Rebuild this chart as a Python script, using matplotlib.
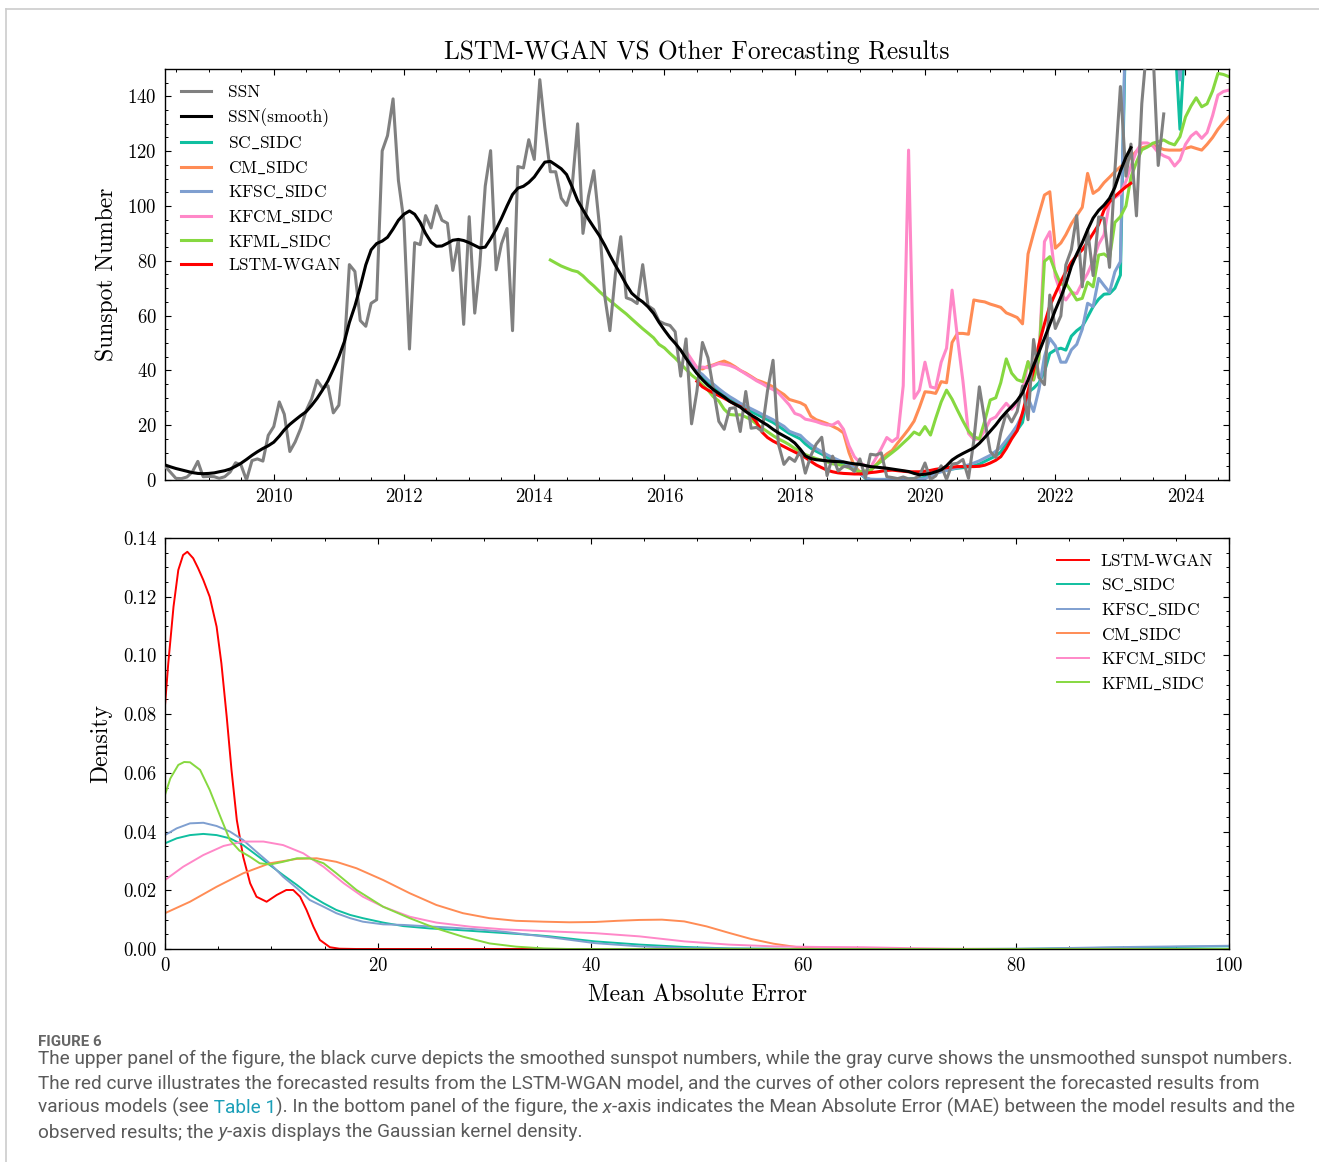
import numpy as np
import pandas as pd
import matplotlib
matplotlib.use('Agg')
import matplotlib.pyplot as plt
import matplotlib.dates as mdates
from matplotlib.ticker import MultipleLocator, FormatStrFormatter
from matplotlib.transforms import IdentityTransform

plt.rcParams['font.family'] = ['cmr10', 'DejaVu Serif']
plt.rcParams['mathtext.fontset'] = 'cm'
plt.rcParams['axes.formatter.use_mathtext'] = True

################### data, upper panel ##############################

# monthly sunspot number, 2008-05 .. 2023-09
ssn = [5.0, 2.8, 0.6, 0.5, 1.1, 2.9, 6.8, 1.2,
       1.3, 1.2, 0.6, 1.2, 2.9, 6.3, 5.5, 0.0, 7.1, 7.7, 6.9, 16.3,
       19.5, 28.5, 24.0, 10.4, 13.9, 18.8, 25.2, 29.6, 36.4, 33.6, 34.4, 24.5,
       27.3, 48.3, 78.6, 76.1, 58.2, 56.1, 64.5, 65.8, 120.1, 125.7, 139.1, 109.3,
       94.4, 47.8, 86.6, 85.9, 96.5, 92.0, 100.1, 94.8, 93.7, 76.5, 87.6, 56.8,
       96.1, 60.9, 78.3, 107.3, 120.2, 76.7, 86.2, 91.8, 54.5, 114.4, 113.9, 124.2,
       117.0, 146.1, 128.7, 112.5, 112.5, 102.9, 100.2, 106.9, 130.0, 90.0, 103.6, 112.9,
       93.0, 66.7, 54.5, 75.3, 88.8, 66.5, 65.8, 64.4, 78.6, 63.6, 62.2, 58.0,
       57.0, 56.4, 54.1, 37.9, 51.5, 20.5, 32.4, 50.2, 44.6, 33.4, 21.4, 18.5,
       26.1, 26.4, 17.7, 32.3, 18.9, 19.2, 17.8, 32.6, 43.7, 13.2, 5.7, 8.2,
       6.8, 10.7, 2.5, 8.9, 13.1, 15.6, 1.6, 8.7, 3.3, 4.9, 4.9, 3.1,
       7.7, 0.8, 9.4, 9.1, 9.9, 1.2, 0.9, 0.5, 1.1, 0.4, 0.5, 1.5,
       6.2, 0.2, 1.5, 5.2, 0.2, 5.8, 6.1, 7.5, 0.6, 14.4, 34.0, 21.8,
       10.4, 8.2, 17.2, 24.5, 21.2, 25.0, 34.3, 22.0, 51.3, 37.4, 34.8, 67.5,
       55.3, 59.9, 78.5, 84.1, 96.5, 70.5, 91.4, 74.6, 96.0, 95.5, 77.6, 112.8,
       143.6, 110.9, 122.6, 96.4, 137.4, 160.5, 159.1, 114.8, 133.6]

# smoothed sunspot number, 2008-05 .. 2023-03
ssn_smooth = [5.5, 4.8, 4.2, 3.7, 3.2, 2.7, 2.4, 2.3,
              2.4, 2.6, 3.0, 3.4, 4.0, 5.0, 6.1, 7.5, 9.0, 10.3, 11.5, 12.5,
              13.8, 16.0, 18.3, 20.3, 21.9, 23.5, 24.9, 27.2, 29.8, 32.8, 36.2, 40.4,
              45.0, 50.5, 57.5, 63.5, 70.5, 78.5, 84.0, 86.3, 87.2, 88.6, 91.6, 94.8,
              97.0, 98.2, 97.0, 94.0, 90.0, 86.8, 85.3, 85.4, 86.4, 87.5, 87.8, 87.4,
              86.6, 85.6, 84.7, 85.0, 88.0, 91.5, 95.5, 100.0, 104.2, 106.5, 107.2, 108.6,
              110.6, 113.5, 116.0, 116.3, 115.0, 113.6, 111.5, 107.0, 102.0, 98.6, 95.2, 92.2,
              89.2, 85.6, 82.0, 78.3, 75.0, 71.3, 68.2, 66.4, 65.0, 63.2, 60.8, 57.6,
              54.7, 52.0, 49.9, 47.4, 44.4, 41.5, 38.9, 36.6, 34.6, 33.0, 31.6, 30.3,
              28.7, 27.6, 26.6, 25.0, 23.7, 22.5, 21.2, 20.0, 18.5, 17.2, 16.1, 15.0,
              13.5, 11.2, 8.8, 7.8, 7.4, 7.2, 7.0, 6.8, 6.7, 6.6, 6.2, 5.9,
              5.7, 5.3, 4.9, 4.7, 4.5, 4.3, 4.0, 3.7, 3.4, 3.1, 2.4, 1.9,
              2.1, 2.4, 3.0, 3.7, 5.2, 7.3, 8.6, 9.7, 10.7, 11.7, 13.4, 15.5,
              17.8, 20.1, 22.5, 24.8, 26.8, 29.0, 31.8, 36.5, 41.8, 46.6, 51.7, 56.8,
              62.0, 66.8, 71.5, 78.0, 82.5, 86.6, 91.3, 95.6, 98.4, 100.3, 102.8, 106.8,
              112.8, 117.8, 121.3]

# forecasts, 2016-05 .. 2024-09 (values above 150 run off the top)
sc_sidc = [45.0, 42.0, 39.0, 37.5, 35.5, 34.0, 32.3, 30.7, 29.4, 28.2,
           26.9, 26.0, 25.0, 24.0, 23.0, 22.0, 21.0, 19.7, 18.3, 17.0,
           16.0, 15.0, 13.2, 11.6, 10.5, 9.5, 8.3, 7.5, 6.8, 6.1,
           5.2, 4.3, 2.5, 0.6, 0.2, 0.2, 0.2, 0.2, 0.3, 0.3,
           0.4, 0.4, 0.5, 0.6, 1.0, 2.4, 2.8, 3.1, 3.5, 4.0,
           4.3, 4.5, 4.8, 5.2, 5.8, 6.8, 7.8, 8.8, 10.2, 13.5,
           16.0, 18.2, 21.0, 32.0, 33.5, 35.5, 39.5, 46.2, 47.5, 48.1,
           47.4, 52.5, 54.5, 56.0, 59.5, 63.3, 66.0, 67.8, 68.0, 70.0,
           74.8, 172, 178, 185, 181, 176, 183, 188, 180, 171,
           163, 128, 165, 174, 182, 190, 186, 193, 198, 192,
           196]
cm_sidc = [46.0, 43.5, 41.0, 40.5, 41.5, 42.0, 42.8, 43.4, 42.5, 41.3,
           40.0, 39.0, 37.8, 36.5, 35.8, 35.0, 34.0, 32.5, 31.2, 29.4,
           28.8, 28.2, 27.2, 23.3, 22.0, 21.3, 20.6, 19.6, 18.6, 17.2,
           10.0, 5.0, 3.0, 2.4, 3.2, 5.5, 7.8, 9.5, 10.8, 13.5,
           16.0, 18.5, 21.5, 26.5, 32.2, 32.0, 31.6, 35.9, 35.5, 50.2,
           53.5, 53.5, 53.2, 65.7, 65.3, 65.0, 64.2, 63.6, 63.0, 61.0,
           60.2, 59.3, 57.0, 82.5, 90.0, 97.0, 104.0, 105.2, 84.6, 86.5,
           89.5, 93.5, 96.5, 99.5, 111.9, 104.6, 106.0, 108.5, 110.5, 112.5,
           114.3, 116.0, 117.8, 120.0, 121.2, 121.8, 122.3, 121.5, 120.6, 120.4,
           120.4, 120.4, 121.0, 121.6, 121.0, 120.4, 122.5, 125.0, 128.0, 130.5,
           132.6]
kfsc_sidc = [45.0, 42.5, 40.0, 38.5, 36.5, 35.0, 33.3, 31.8, 30.4, 29.2,
             28.0, 27.0, 26.0, 25.0, 24.0, 23.0, 22.0, 20.8, 19.6, 17.8,
             17.0, 16.3, 14.5, 12.8, 11.5, 10.3, 9.2, 8.2, 7.3, 6.5,
             5.5, 4.5, 2.5, 0.8, 0.3, 0.2, 0.2, 0.2, 0.2, 0.2,
             0.2, 0.2, 0.2, 0.3, 0.5, 1.5, 2.5, 3.0, 3.5, 4.0,
             4.5, 5.0, 5.5, 6.2, 7.0, 8.0, 9.0, 10.5, 12.0, 14.5,
             17.0, 20.0, 24.0, 30.0, 25.0, 33.0, 45.0, 51.7, 49.0, 43.0,
             43.0, 47.5, 49.5, 55.0, 64.5, 63.3, 73.6, 71.0, 68.5, 76.0,
             79.7, 176, 182, 190, 186, 181, 188, 192, 184, 175,
             168, 146, 170, 178, 186, 193, 189, 196, 201, 195,
             199]
kfcm_sidc = [47.0, 44.0, 41.0, 41.2, 41.0, 41.8, 42.5, 42.2, 41.8, 41.0,
             40.0, 38.7, 37.5, 36.2, 35.2, 34.0, 33.0, 31.8, 29.6, 27.4,
             24.3, 23.6, 22.2, 21.8, 21.3, 20.6, 20.1, 20.1, 21.3, 18.5,
             12.5, 8.5, 6.3, 5.2, 4.5, 8.0, 11.5, 15.5, 14.0, 15.5,
             34.4, 120.4, 29.8, 32.8, 43.0, 34.0, 33.5, 43.0, 48.1, 69.3,
             52.0, 36.0, 17.0, 14.8, 15.0, 18.0, 22.0, 23.0, 25.5, 28.0,
             25.8, 28.0, 32.0, 43.2, 36.5, 44.0, 87.0, 90.6, 74.2, 68.1,
             65.7, 68.5, 68.0, 72.0, 75.4, 80.0, 86.0, 89.5, 101.5, 103.0,
             104.5, 109.0, 114.5, 120.0, 123.0, 123.0, 122.0, 119.5, 118.3, 117.5,
             114.6, 116.8, 122.5, 125.5, 127.0, 124.7, 126.8, 133.0, 140.5, 141.8,
             142.3]
# KFML starts earlier, 2014-04 .. 2024-09
kfml_sidc = [80.3, 79.2, 78.1, 77.3, 76.5, 76.0, 74.5, 72.5, 70.8, 68.8,
             67.0, 65.5, 63.8, 62.2, 60.6, 58.8, 57.0, 55.2, 53.6, 51.9,
             49.5, 48.2, 46.2, 44.5, 42.4, 40.4, 38.3, 36.8, 34.8, 32.8,
             30.4, 28.8, 25.8, 23.9, 23.7, 23.8, 23.0, 22.0, 20.4, 19.0,
             17.6, 16.2, 15.0, 14.0, 12.9, 11.5, 10.3, 9.3, 8.5, 7.8,
             7.2, 6.6, 5.9, 5.6, 5.2, 4.4, 3.6, 3.0, 3.3, 3.6,
             5.4, 6.8, 8.5, 10.0, 11.6, 13.5, 15.3, 17.5, 16.5, 19.5,
             16.4, 22.5, 28.5, 32.8, 29.5, 25.5, 21.5, 17.8, 15.8, 15.0,
             21.5, 29.2, 30.0, 35.5, 44.2, 39.0, 36.6, 35.9, 43.2, 36.5,
             44.4, 79.8, 81.5, 76.0, 71.4, 71.8, 68.8, 65.7, 66.3, 72.2,
             70.5, 82.1, 82.5, 81.0, 94.0, 96.1, 100.0, 110.5, 116.0, 120.5,
             121.5, 122.9, 123.5, 124.1, 123.0, 122.3, 125.3, 132.5, 136.5, 139.5,
             136.2, 137.3, 142.0, 148.4, 148.0, 147.2]
# LSTM-WGAN, 2016-07 .. 2023-03
lstm_wgan = [36.0, 34.0, 32.8, 31.8, 30.8, 29.8, 28.7, 27.6, 26.8, 25.5,
             23.5, 21.0, 17.5, 15.5, 14.2, 13.2, 12.2, 11.2, 10.2, 9.2,
             8.2, 6.8, 5.5, 4.5, 3.6, 3.0, 2.6, 2.4, 2.3, 2.2,
             2.2, 2.4, 2.7, 2.9, 3.2, 3.5, 3.6, 3.4, 3.2, 3.0,
             3.0, 3.0, 3.2, 3.5, 3.9, 4.2, 4.5, 4.7, 4.9, 4.9,
             4.9, 4.9, 5.0, 5.4, 6.2, 7.2, 8.5, 11.5, 15.0, 18.0,
             24.5, 32.5, 40.0, 49.5, 57.0, 63.5, 68.0, 72.4, 76.0, 79.5,
             82.0, 84.0, 86.8, 90.0, 93.2, 98.5, 101.5, 103.5, 105.3, 107.0,
             108.3]

################### data, lower panel (kernel density of MAE) ######

mae_lstm = [0, 0.3, 0.8, 1.25, 1.7, 2.1, 2.65, 3.1, 3.6, 4.2, 4.85, 5.3, 5.8, 6.25, 6.75,
            7.35, 8.0, 8.6, 9.55, 10.5, 11.4, 12.05, 12.7, 13.3, 13.95, 14.55, 15.5, 16.4, 18, 100]
kde_lstm = [0.083, 0.097, 0.1166, 0.1291, 0.1342, 0.1353, 0.1331, 0.1298, 0.1257, 0.12, 0.1098,
            0.0973, 0.0791, 0.061, 0.0439, 0.0314, 0.0224, 0.0178, 0.0161, 0.0184, 0.0201, 0.0201,
            0.0178, 0.0133, 0.0076, 0.0031, 0.0006, 0.0001, 0.0, 0.0]
mae_sc = [0, 1.1, 2.35, 3.6, 4.85, 6.1, 7.35, 8.6, 9.85, 11.1, 12.4, 13.6, 14.9, 16.1, 17.4,
          18.6, 20.5, 22.4, 24.9, 27.4, 29.9, 32.4, 34.9, 36.2, 40.4, 44.6, 48.8, 53, 60, 70,
          80, 86.3, 94.7, 100]
kde_sc = [0.036, 0.0377, 0.0388, 0.0392, 0.0388, 0.0377, 0.0354, 0.032, 0.0286, 0.0252, 0.0218,
          0.0184, 0.0156, 0.0133, 0.0116, 0.0105, 0.009, 0.0078, 0.007, 0.0065, 0.0059, 0.0053,
          0.0047, 0.0043, 0.0026, 0.0015, 0.0007, 0.0002, 0.0, 0.0, 0.0, 0.0003, 0.0007, 0.0009]
mae_kfsc = [0, 1.1, 2.35, 3.6, 4.85, 6.1, 7.35, 8.6, 9.85, 11.1, 12.4, 13.6, 14.9, 16.1, 17.4,
            18.6, 20.5, 22.4, 24.3, 26.8, 29.3, 31.8, 34.3, 36.2, 40.4, 44.6, 48.8, 55, 65, 75,
            82.4, 90.8, 100]
kde_kfsc = [0.0388, 0.0411, 0.0428, 0.043, 0.0419, 0.04, 0.0371, 0.0331, 0.0292, 0.0246, 0.0207,
            0.0167, 0.0144, 0.0122, 0.0105, 0.0093, 0.0084, 0.0082, 0.0078, 0.0073, 0.0067, 0.0059,
            0.0048, 0.004, 0.002, 0.0009, 0.0003, 0.0001, 0.0, 0.0, 0.0002, 0.0007, 0.0011]
mae_cm = [0, 2.35, 4.85, 7.35, 9.85, 12.4, 14.25, 16.1, 18.0, 20.5, 23.0, 25.5, 28.0, 30.5, 33.0,
          35.6, 38, 40.4, 42.5, 44.6, 46.7, 48.8, 50.9, 53.0, 55.1, 57.2, 59.3, 61.4, 64.8, 100]
kde_cm = [0.0122, 0.0161, 0.0212, 0.0258, 0.0292, 0.0307, 0.0309, 0.0297, 0.0275, 0.0235, 0.019,
          0.015, 0.0122, 0.0105, 0.0096, 0.0093, 0.0091, 0.0092, 0.0096, 0.0099, 0.01, 0.0094,
          0.0077, 0.0055, 0.0034, 0.0018, 0.0007, 0.0002, 0.0, 0.0]
mae_kfcm = [0, 1.7, 3.6, 5.5, 7.35, 9.25, 11.1, 13.0, 14.9, 16.8, 18.6, 20.5, 23.0, 25.5, 28.7,
            31.8, 36.2, 40.4, 44.6, 48.8, 53.0, 57.2, 61.4, 65.6, 69.8, 74, 80, 100]
kde_kfcm = [0.0235, 0.028, 0.032, 0.0351, 0.0366, 0.0366, 0.0354, 0.0326, 0.028, 0.0224, 0.0178,
            0.0144, 0.011, 0.009, 0.0076, 0.0067, 0.006, 0.0054, 0.0043, 0.0026, 0.0015, 0.0009,
            0.0007, 0.0006, 0.0003, 0.0001, 0.0, 0.0]
mae_kfml = [0, 0.5, 1.25, 1.8, 2.35, 3.3, 4.2, 5.2, 6.1, 7.0, 8.0, 8.9, 9.9, 11.1, 12.4, 13.6, 14.9,
            16.1, 18.0, 20.5, 23.0, 25.5, 28.0, 30.5, 33.0, 35.6, 38, 100]
kde_kfml = [0.0525, 0.0581, 0.0627, 0.0637, 0.0636, 0.061, 0.0542, 0.0451, 0.0371, 0.0335, 0.0314,
            0.0292, 0.0288, 0.0297, 0.0309, 0.0309, 0.0292, 0.0258, 0.0201, 0.0144, 0.0105, 0.007,
            0.0042, 0.0019, 0.0008, 0.0002, 0.0, 0.0]

c_sc = '#10bfa0'
c_cm = '#ff8c55'
c_kfsc = '#7f9fd0'
c_kfcm = '#ff88c8'
c_kfml = '#86d840'
c_lstm = '#ff0000'

d_ssn = pd.date_range('2008-05-01', periods=len(ssn), freq='MS')
d_smooth = pd.date_range('2008-05-01', periods=len(ssn_smooth), freq='MS')
d_model = pd.date_range('2016-05-01', periods=len(sc_sidc), freq='MS')
d_kfml = pd.date_range('2014-04-01', periods=len(kfml_sidc), freq='MS')
d_lstm = pd.date_range('2016-07-01', periods=len(lstm_wgan), freq='MS')

# underscores drawn through mathtext (cmr10 has a dot accent at that slot)
lab_sc = r'SC$\_$SIDC'
lab_cm = r'CM$\_$SIDC'
lab_kfsc = r'KFSC$\_$SIDC'
lab_kfcm = r'KFCM$\_$SIDC'
lab_kfml = r'KFML$\_$SIDC'

################### figure ##############################

W, H = 1319, 1162
fig = plt.figure(figsize=(W / 100, H / 100), dpi=100)

def style(ax):
    ax.tick_params(which='both', direction='in', top=True, right=True, labelsize=13.5, pad=6)
    ax.tick_params(which='major', length=4.5, width=0.8)
    ax.tick_params(which='minor', length=2.2, width=0.7)
    for s in ax.spines.values():
        s.set_linewidth(1.0)

ax1 = fig.add_axes([165 / W, 1 - 480 / H, 1064 / W, 411 / H])
lw = 2.2
ax1.plot(d_ssn, ssn, color='gray', lw=lw, label='SSN', zorder=2.6)
ax1.plot(d_smooth, ssn_smooth, color='black', lw=lw, label='SSN(smooth)', zorder=2.8)
ax1.plot(d_model, sc_sidc, color=c_sc, lw=lw, label=lab_sc)
ax1.plot(d_model, cm_sidc, color=c_cm, lw=lw, label=lab_cm)
ax1.plot(d_model, kfsc_sidc, color=c_kfsc, lw=lw, label=lab_kfsc)
ax1.plot(d_model, kfcm_sidc, color=c_kfcm, lw=lw, label=lab_kfcm)
ax1.plot(d_kfml, kfml_sidc, color=c_kfml, lw=lw, label=lab_kfml)
ax1.plot(d_lstm, lstm_wgan, color=c_lstm, lw=lw, label='LSTM-WGAN', zorder=2.4)
ax1.set_xlim(d_ssn[0], d_model[-1])
ax1.set_ylim(0, 150)
ax1.xaxis.set_major_locator(mdates.YearLocator(2))
ax1.xaxis.set_minor_locator(mdates.MonthLocator(bymonth=[1, 7]))
ax1.xaxis.set_major_formatter(mdates.DateFormatter('%Y'))
ax1.yaxis.set_major_locator(MultipleLocator(20))
ax1.yaxis.set_minor_locator(MultipleLocator(5))
style(ax1)
ax1.set_title('LSTM-WGAN VS Other Forecasting Results', fontsize=18.3, pad=7)
ax1.set_ylabel('Sunspot Number', fontsize=17)
ax1.yaxis.set_label_coords(-0.044, 0.5)
ax1.legend(loc='upper left', frameon=False, fontsize=12.5, handlelength=1.75,
           handletextpad=1.0, labelspacing=0.47, borderaxespad=0.5)

ax2 = fig.add_axes([165 / W, 1 - 949 / H, 1064 / W, 411 / H])
lw2 = 1.4
ax2.plot(mae_lstm, kde_lstm, color=c_lstm, lw=lw2, label='LSTM-WGAN')
ax2.plot(mae_sc, kde_sc, color=c_sc, lw=lw2, label=lab_sc)
ax2.plot(mae_kfsc, kde_kfsc, color=c_kfsc, lw=lw2, label=lab_kfsc)
ax2.plot(mae_cm, kde_cm, color=c_cm, lw=lw2, label=lab_cm)
ax2.plot(mae_kfcm, kde_kfcm, color=c_kfcm, lw=lw2, label=lab_kfcm)
ax2.plot(mae_kfml, kde_kfml, color=c_kfml, lw=lw2, label=lab_kfml)
ax2.set_xlim(0, 100)
ax2.set_ylim(0, 0.14)
ax2.xaxis.set_major_locator(MultipleLocator(20))
ax2.xaxis.set_minor_locator(MultipleLocator(5))
ax2.yaxis.set_major_locator(MultipleLocator(0.02))
ax2.yaxis.set_minor_locator(MultipleLocator(0.005))
ax2.yaxis.set_major_formatter(FormatStrFormatter('%.2f'))
style(ax2)
ax2.set_xlabel('Mean Absolute Error', fontsize=17)
ax2.xaxis.set_label_coords(0.5, -0.085)
ax2.set_ylabel('Density', fontsize=17)
ax2.yaxis.set_label_coords(-0.05, 0.5)
ax2.legend(loc='upper right', frameon=False, fontsize=12.5, handlelength=1.85,
           handletextpad=0.7, labelspacing=0.47, borderaxespad=0.5)

################### page frame + caption ##############################

fig.add_artist(plt.Line2D([6 / W, 1], [1 - 9 / H] * 2, color='#cccccc', lw=1.2))
fig.add_artist(plt.Line2D([6 / W] * 2, [0, 1 - 9 / H], color='#cccccc', lw=1.2))

cap_font = 'Roboto'
cap_col = '#5a5a5a'
fig.text(38, H - 1046, 'FIGURE 6', transform=IdentityTransform(), family=cap_font,
         fontsize=10.8, color='#666666', weight='bold', va='baseline')

cap_lines = [
    [('The upper panel of the figure, the black curve depicts the smoothed sunspot numbers, '
      'while the gray curve shows the unsmoothed sunspot numbers.', {})],
    [('The red curve illustrates the forecasted results from the LSTM-WGAN model, and the '
      'curves of other colors represent the forecasted results from', {})],
    [('various models (see', {}), (' Table 1', {'color': '#1a9fb8'}),
     ('). In the bottom panel of the figure, the', {}), (' x', {'style': 'italic'}),
     ('-axis indicates the Mean Absolute Error (MAE) between the model results and the', {})],
    [('observed results; the', {}), (' y', {'style': 'italic'}),
     ('-axis displays the Gaussian kernel density.', {})],
]
cap_base = [1064, 1089, 1113, 1137]

renderer = fig.canvas.get_renderer()
for parts, yb in zip(cap_lines, cap_base):
    x = 38
    for s, kw in parts:
        opts = dict(family=cap_font, fontsize=13.65, color=cap_col, va='baseline')
        opts.update(kw)
        t = fig.text(x, H - yb, s, transform=IdentityTransform(), **opts)
        x = t.get_window_extent(renderer).x1

fig.savefig('out.png', dpi=100)
